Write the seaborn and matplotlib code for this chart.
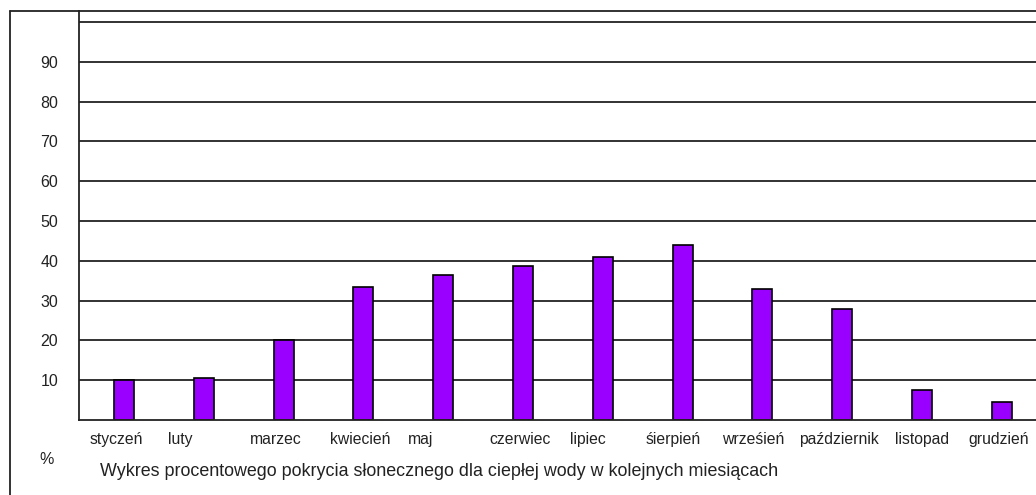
import matplotlib
matplotlib.use("Agg")
import matplotlib.pyplot as plt
from matplotlib.lines import Line2D
import seaborn as sns
import pandas as pd

months = ["styczeń", "luty", "marzec", "kwiecień", "maj", "czerwiec", "lipiec",
          "śierpień", "wrześień", "październik", "listopad", "grudzień"]
coverage = [10.1, 10.6, 20.0, 33.4, 36.5, 38.6, 41.0, 44.0, 33.0, 28.0, 7.5, 4.4]
# label centres as they sit in the original, in category units
label_pos = [-0.09, 0.71, 1.90, 2.96, 3.72, 4.97, 5.81, 6.88, 7.89, 8.96, 10.0, 10.96]
y_ticks = [10, 20, 30, 40, 50, 60, 70, 80, 90, 100]
y_labels = ["10", "20", "30", "40", "50", "60", "70", "80", "90", ""]
title = "Wykres procentowego pokrycia słonecznego dla ciepłej wody w kolejnych miesiącach"

sns.set_theme(style="white")
plt.rcParams["font.family"] = ["Liberation Sans", "DejaVu Sans"]

df = pd.DataFrame({"month": months, "value": coverage})

W, H = 1036, 495
fig = plt.figure(figsize=(W / 100, H / 100), dpi=100)
ax = fig.add_axes([79 / W, (H - 420) / H, 1 - 79 / W, (420 - 11) / H])

for yv in y_ticks:
    ax.axhline(yv, color="#222222", lw=1.3, zorder=0)

sns.barplot(data=df, x="month", y="value", order=months, color="#9900FF",
            width=0.25, edgecolor="black", linewidth=1.2, saturation=1, ax=ax, zorder=2)

ax.set_xlim(-0.564, 11.43)
ax.set_ylim(0, 102.8)
ax.set_yticks(y_ticks)
ax.set_yticklabels(y_labels, fontsize=11.5, color="#222222")
ax.set_xticks(label_pos)
ax.set_xticklabels(months, fontsize=11.3, color="#222222")
ax.tick_params(axis="both", length=0)
ax.tick_params(axis="x", pad=8.5)
ax.tick_params(axis="y", pad=15)
ax.set_xlabel("")
ax.set_ylabel("")
for s in ["left", "bottom", "top"]:
    ax.spines[s].set_visible(True)
    ax.spines[s].set_color("#222222")
    ax.spines[s].set_linewidth(1.3)
ax.spines["right"].set_visible(False)

# outer frame
fig.add_artist(Line2D([10 / W, 10 / W], [0, (H - 11) / H], color="#222222", lw=1.3))
fig.add_artist(Line2D([10 / W, 79 / W], [(H - 11) / H, (H - 11) / H], color="#222222", lw=1.3))

fig.text(47 / W, (H - 460) / H, "%", fontsize=11.5, ha="center", va="center", color="#222222")
fig.text(100 / W, (H - 472) / H, title, fontsize=12.9, ha="left", va="center", color="#222222")

fig.savefig("out.png", dpi=100)
